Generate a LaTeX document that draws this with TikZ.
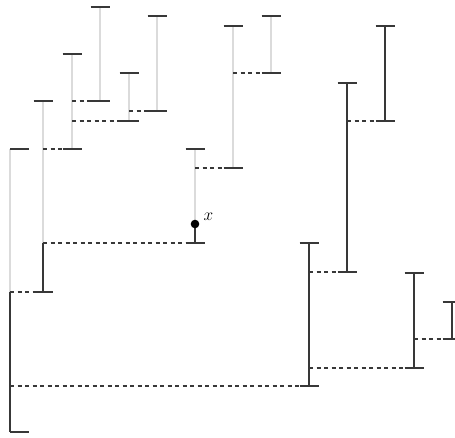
\documentclass[tikz,border=0pt]{standalone}
\definecolor{bardark}{gray}{0.22}
\definecolor{barlight}{gray}{0.86}
\newcommand{\bartick}[1]{\draw[tick] (#1) +(-9.5,0) -- +(9.5,0);}
\begin{document}
\begin{tikzpicture}[x=1pt, y=-1pt, line width=1.3pt,
    light/.style={color=barlight},
    dark/.style={color=bardark},
    tick/.style={color=bardark},
    link/.style={color=bardark, dash pattern=on 4pt off 3.5pt}]
    \clip (0,0) rectangle (455,437);

    \coordinate (aT) at (10,149);  \coordinate (aM) at (10,292);  \coordinate (aB) at (10,432);
    \coordinate (bT) at (43,101);  \coordinate (bM) at (43,243);  \coordinate (bB) at (43,292);
    \coordinate (cT) at (72,54);   \coordinate (cB) at (72,149);
    \coordinate (dT) at (100,7);   \coordinate (dB) at (100,101);
    \coordinate (eT) at (129,73);  \coordinate (eB) at (129,121);
    \coordinate (fT) at (157,16);  \coordinate (fB) at (157,111);
    \coordinate (gT) at (195,149); \coordinate (gX) at (195,224); \coordinate (gB) at (195,243);
    \coordinate (hT) at (233,26);  \coordinate (hB) at (233,168);
    \coordinate (iT) at (271,16);  \coordinate (iB) at (271,73);
    \coordinate (jT) at (309,243); \coordinate (jB) at (309,386);
    \coordinate (kT) at (347,83);  \coordinate (kB) at (347,272);
    \coordinate (lT) at (385,26);  \coordinate (lB) at (385,121);
    \coordinate (mT) at (414,273); \coordinate (mB) at (414,368);
    \coordinate (nT) at (452,302); \coordinate (nB) at (452,339);

    \draw[light] (aT) -- (aM);
    \draw[light] (bT) -- (bM);
    \draw[light] (cT) -- (cB);
    \draw[light] (dT) -- (dB);
    \draw[light] (eT) -- (eB);
    \draw[light] (fT) -- (fB);
    \draw[light] (gT) -- (gX);
    \draw[light] (hT) -- (hB);
    \draw[light] (iT) -- (iB);

    \draw[dark] (aM) -- (aB);
    \draw[dark] (bM) -- (bB);
    \draw[dark] (gX) -- (gB);
    \draw[dark] (jT) -- (jB);
    \draw[dark] (kT) -- (kB);
    \draw[dark] (lT) -- (lB);
    \draw[dark] (mT) -- (mB);
    \draw[dark] (nT) -- (nB);

    \draw[link] (aM) -- (bB);
    \draw[link] (bT |- cB) -- (cB);
    \draw[link] (cT |- dB) -- (dB);
    \draw[link] (cT |- eB) -- (eB);
    \draw[link] (eT |- fB) -- (fB);
    \draw[link] (bM) -- (gB);
    \draw[link] (gT |- hB) -- (hB);
    \draw[link] (hT |- iB) -- (iB);
    \draw[link] (aT |- jB) -- (jB);
    \draw[link] (jT |- kB) -- (kB);
    \draw[link] (kT |- lB) -- (lB);
    \draw[link] (jT |- mB) -- (mB);
    \draw[link] (mT |- nB) -- (nB);

    \draw[tick] (aT) -- +(19,0);
    \draw[tick] (aB) -- +(19,0);
    \bartick{bT} \bartick{bB}
    \bartick{cT} \bartick{cB}
    \bartick{dT} \bartick{dB}
    \bartick{eT} \bartick{eB}
    \bartick{fT} \bartick{fB}
    \bartick{gT} \bartick{gB}
    \bartick{hT} \bartick{hB}
    \bartick{iT} \bartick{iB}
    \bartick{jT} \bartick{jB}
    \bartick{kT} \bartick{kB}
    \bartick{lT} \bartick{lB}
    \bartick{mT} \bartick{mB}
    \bartick{nT} \bartick{nB}

    \fill[black] (gX) circle (4.3);
    \node[anchor=west, inner sep=0pt, font=\fontsize{16}{19}\selectfont] (xlabel) at (203,217) {$x$};
\end{tikzpicture}
\end{document}
